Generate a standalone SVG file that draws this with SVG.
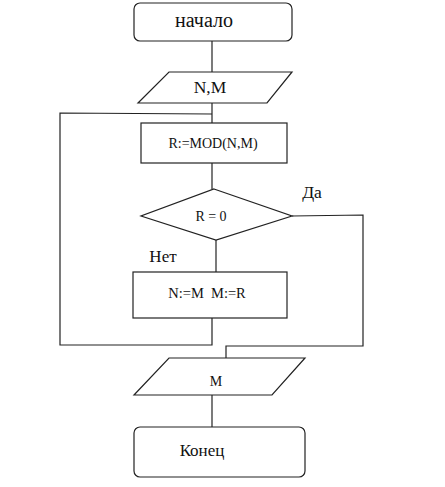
<svg xmlns="http://www.w3.org/2000/svg" width="445" height="487" viewBox="0 0 445 487">
<style>
.s{fill:#fff;stroke:#222;stroke-width:1.2}
.c{fill:none;stroke:#222;stroke-width:1.2}
text{font-family:"Liberation Serif","Times New Roman",serif;fill:#111;text-anchor:middle}
</style>
<rect width="445" height="487" fill="#fff"/>
<g id="connectors">
<line class="c" x1="212" y1="41" x2="212" y2="72"/>
<line class="c" x1="212" y1="103" x2="212" y2="123"/>
<polyline class="c" points="212,114 60,113 60,345 212,345 212,318"/>
<line class="c" x1="212" y1="163" x2="212" y2="189"/>
<line class="c" x1="216" y1="240" x2="216" y2="272"/>
<polyline class="c" points="292,216 363,215 363,346 226,346 226,358"/>
<line class="c" x1="212" y1="395" x2="212" y2="427"/>
</g>
<g id="start">
<rect class="s" x="134" y="3" width="158" height="38" rx="6"/>
<text x="204" y="27" font-size="20" textLength="58" lengthAdjust="spacingAndGlyphs">начало</text>
</g>
<g id="input">
<polygon class="s" points="169,72 292,72 267,103 138,103"/>
<text x="210" y="93" font-size="17.5">N,M</text>
</g>
<g id="mod">
<rect class="s" x="141" y="123" width="146" height="40"/>
<text x="213" y="148" font-size="14">R:=MOD(N,M)</text>
</g>
<g id="decision">
<polygon class="s" points="214,189 292,216 216,240 141,216"/>
<text x="211" y="221" font-size="14">R = 0</text>
<text x="312" y="198" font-size="17.5">Да</text>
<text x="163" y="262" font-size="17">Нет</text>
</g>
<g id="swap">
<rect class="s" x="133" y="272" width="154" height="46"/>
<text x="207" y="298" font-size="14.5" xml:space="preserve">N:=M  M:=R</text>
</g>
<g id="output">
<polygon class="s" points="169,358 305,358 272,395 134,395"/>
<text x="216" y="386" font-size="14">M</text>
</g>
<g id="end">
<rect class="s" x="134" y="427" width="171" height="50" rx="6"/>
<text x="202" y="456" font-size="17">Конец</text>
</g>
</svg>
